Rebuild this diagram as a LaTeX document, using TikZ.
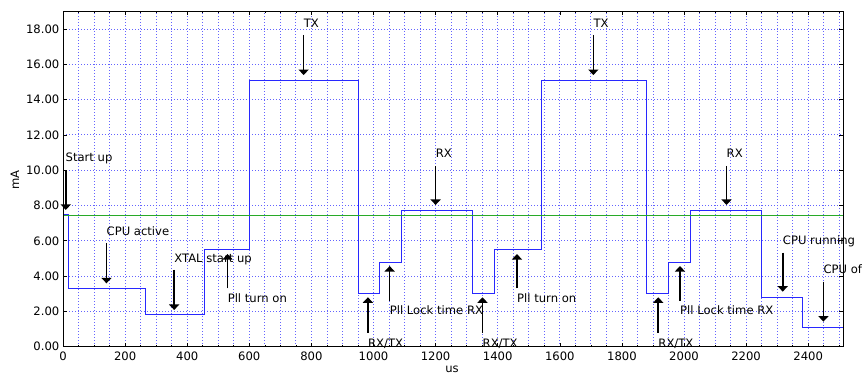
\documentclass[tikz,border=0pt]{standalone}
\usepackage{fontspec}
\setmainfont{DejaVu Sans}
\usetikzlibrary{arrows.meta}
\definecolor{gridblue}{RGB}{100,100,255}
\definecolor{curveblue}{RGB}{40,40,255}
\definecolor{meangreen}{RGB}{40,170,40}

\begin{document}
\begin{tikzpicture}[
    font=\fontsize{11.6}{13}\selectfont,
    gridline/.style={gridblue, line width=0.8pt, dash pattern=on 1pt off 2pt},
    spine/.style={black, line width=0.9pt},
    tick/.style={black, line width=0.6pt},
    current/.style={curveblue, line width=0.9pt},
    average/.style={meangreen, line width=1.2pt},
    lbl/.style={anchor=base west, inner sep=0pt},
    ann/.style={black, line width=1.5pt, -{Triangle[width=10pt,length=5.5pt]}},
  ]
  \useasboundingbox (0,0) rectangle (862pt,374pt);
  \begin{scope}[shift={(63pt,27.3pt)}, x=0.3105pt, y=17.65pt]
    \foreach \t in {50,100,...,2500}
      \draw[gridline] (\t,0) -- (\t,19);
    \foreach \v in {2,4,...,18}
      \draw[gridline] (0,\v) -- (2513,\v);

    \draw[current] (0,7.5) -- (18,7.5) -- (18,3.3) -- (265,3.3) -- (265,1.8)
      -- (455,1.8) -- (455,5.5) -- (600,5.5) -- (600,15.1) -- (950,15.1)
      -- (950,3.0) -- (1020,3.0) -- (1020,4.8) -- (1090,4.8) -- (1090,7.7)
      -- (1320,7.7) -- (1320,3.0) -- (1390,3.0) -- (1390,5.5) -- (1540,5.5)
      -- (1540,15.1) -- (1880,15.1) -- (1880,3.0) -- (1950,3.0) -- (1950,4.8)
      -- (2020,4.8) -- (2020,7.7) -- (2250,7.7) -- (2250,2.8) -- (2380,2.8)
      -- (2380,1.1) -- (2513,1.1);
    \draw[average] (0,7.42) -- (2513,7.42);

    \draw[spine] (0,0) rectangle (2513,19);
    \foreach \t in {0,50,...,2500} {
      \draw[tick] (\t,0) -- ++(0,2pt);
      \draw[tick] (\t,19) -- ++(0,-2pt);
    }
    \foreach \t in {0,200,...,2400} {
      \draw[tick] (\t,0) -- ++(0,4pt);
      \draw[tick] (\t,19) -- ++(0,-4pt);
      \node[anchor=north, inner sep=0pt, yshift=-5pt] (xt\t) at (\t,0) {\t};
    }
    \foreach \v/\l in {0/0.00,2/2.00,4/4.00,6/6.00,8/8.00,10/10.00,12/12.00,14/14.00,16/16.00,18/18.00} {
      \draw[tick] (0,\v) -- ++(4pt,0);
      \draw[tick] (2513,\v) -- ++(-4pt,0);
      \node[anchor=east, inner sep=0pt, xshift=-3.5pt] (yt\v) at (0,\v) {\l};
    }

    \path
      (9,10.01) coordinate (startup-a) (9,7.75) coordinate (startup-b)
      (140,5.86) coordinate (cpuactive-a) (140,3.59) coordinate (cpuactive-b)
      (358,4.35) coordinate (xtal-a) (358,2.08) coordinate (xtal-b)
      (530,3.31) coordinate (pllon1-a) (530,5.25) coordinate (pllon1-b)
      (775,17.66) coordinate (tx1-a) (775,15.39) coordinate (tx1-b)
      (982,0.79) coordinate (rxtx1-a) (982,2.80) coordinate (rxtx1-b)
      (1052,2.61) coordinate (plllock1-a) (1052,4.57) coordinate (plllock1-b)
      (1200,10.24) coordinate (rx1-a) (1200,8.03) coordinate (rx1-b)
      (1351,0.79) coordinate (rxtx2-a) (1351,2.80) coordinate (rxtx2-b)
      (1462,3.31) coordinate (pllon2-a) (1462,5.25) coordinate (pllon2-b)
      (1708,17.66) coordinate (tx2-a) (1708,15.39) coordinate (tx2-b)
      (1917,0.79) coordinate (rxtx3-a) (1917,2.80) coordinate (rxtx3-b)
      (1987,2.61) coordinate (plllock2-a) (1987,4.57) coordinate (plllock2-b)
      (2137,10.24) coordinate (rx2-a) (2137,8.03) coordinate (rx2-b)
      (2318,5.33) coordinate (cpurun-a) (2318,3.12) coordinate (cpurun-b)
      (2449,3.68) coordinate (cpuoff-a) (2449,1.42) coordinate (cpuoff-b);
    \begin{scope}[ann]
      \draw (startup-a) -- (startup-b);
      \draw (cpuactive-a) -- (cpuactive-b);
      \draw (xtal-a) -- (xtal-b);
      \draw (pllon1-a) -- (pllon1-b);
      \draw (tx1-a) -- (tx1-b);
      \draw (rxtx1-a) -- (rxtx1-b);
      \draw (plllock1-a) -- (plllock1-b);
      \draw (rx1-a) -- (rx1-b);
      \draw (rxtx2-a) -- (rxtx2-b);
      \draw (pllon2-a) -- (pllon2-b);
      \draw (tx2-a) -- (tx2-b);
      \draw (rxtx3-a) -- (rxtx3-b);
      \draw (plllock2-a) -- (plllock2-b);
      \draw (rx2-a) -- (rx2-b);
      \draw (cpurun-a) -- (cpurun-b);
      \draw (cpuoff-a) -- (cpuoff-b);
    \end{scope}
    \path
      (8,10.48) node[lbl] (startup) {Start up}
      (140,6.29) node[lbl] (cpuactive) {CPU active}
      (358,4.78) node[lbl] (xtal) {XTAL start up}
      (530,2.52) node[lbl] (pllon1) {Pll turn on}
      (775,18.10) node[lbl] (tx1) {TX}
      (982,-0.03) node[lbl] (rxtx1) {RX/TX}
      (1052,1.81) node[lbl] (plllock1) {Pll Lock time RX}
      (1200,10.71) node[lbl] (rx1) {RX}
      (1351,-0.03) node[lbl] (rxtx2) {RX/TX}
      (1462,2.52) node[lbl] (pllon2) {Pll turn on}
      (1708,18.10) node[lbl] (tx2) {TX}
      (1917,-0.03) node[lbl] (rxtx3) {RX/TX}
      (1987,1.81) node[lbl] (plllock2) {Pll Lock time RX}
      (2137,10.71) node[lbl] (rx2) {RX}
      (2318,5.78) node[lbl] (cpurun) {CPU running}
      (2449,4.12) node[lbl] (cpuoff) {CPU of};
  \end{scope}
  \node[rotate=90] (ylabel) at (15pt,194pt) {mA};
  \node[anchor=base, inner sep=0pt] (xlabel) at (452pt,1.2pt) {us};
\end{tikzpicture}
\end{document}
